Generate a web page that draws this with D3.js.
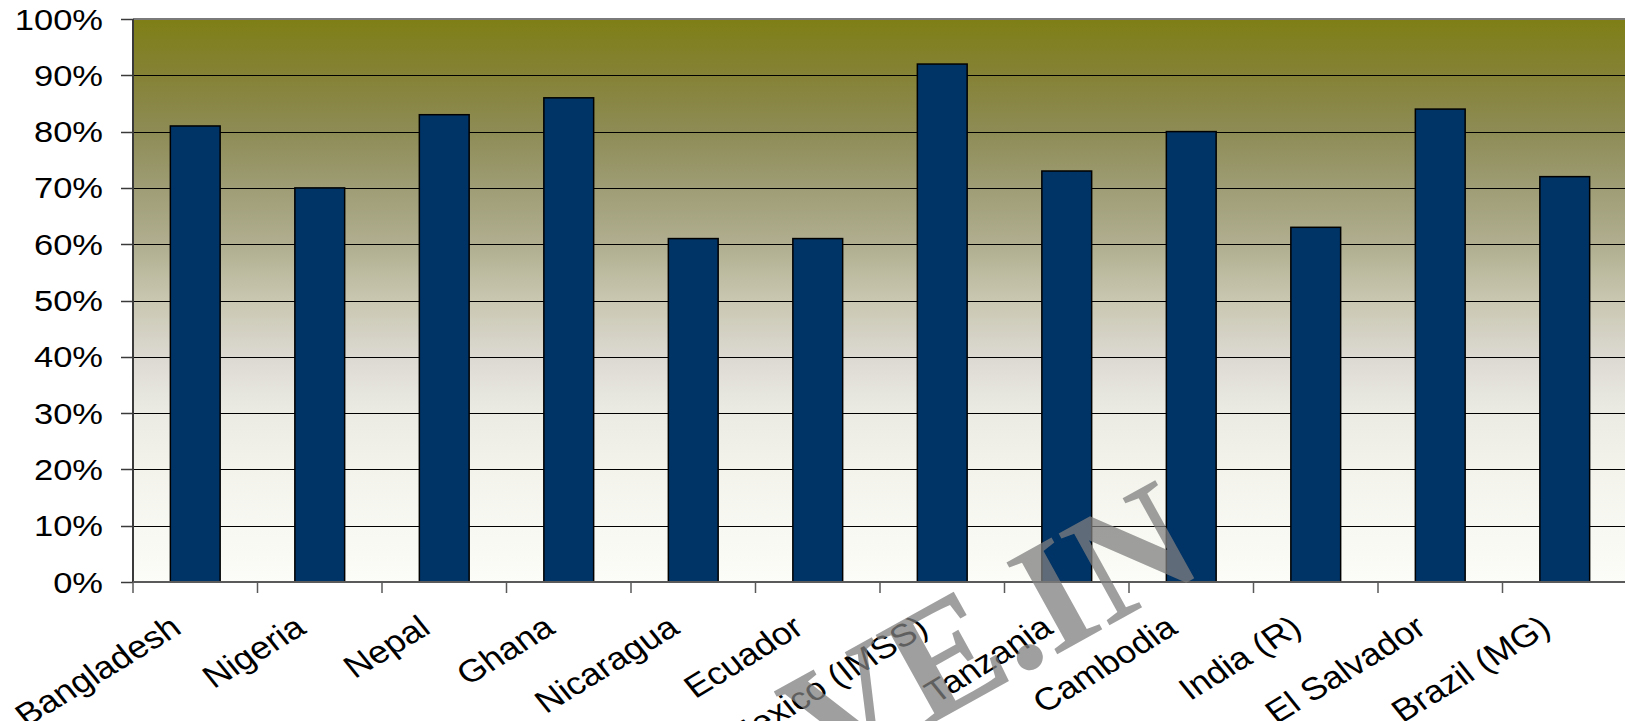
<!DOCTYPE html>
<html>
<head>
<meta charset="utf-8">
<script src="https://cdn.jsdelivr.net/npm/d3@7"></script>
<style>
  html, body { margin: 0; padding: 0; background: #ffffff; }
  svg { display: block; }
  .lbl { font-family: "Liberation Sans", Arial, sans-serif; fill: #000; }
  .wm { font-family: "Liberation Serif", "Times New Roman", serif; fill: #7f7f7f; fill-opacity: 0.75; }
</style>
</head>
<body>
<svg id="chart" width="1625" height="721"></svg>
<script>
// Share of respondents per country
const categories = ["Bangladesh", "Nigeria", "Nepal", "Ghana", "Nicaragua", "Ecuador",
                    "Mexico (IMSS)", "Tanzania", "Cambodia", "India (R)", "El Salvador", "Brazil (MG)"];
const values = [0.81, 0.70, 0.83, 0.86, 0.61, 0.61, 0.92, 0.73, 0.80, 0.63, 0.84, 0.72];
const yTicks = [0, 0.1, 0.2, 0.3, 0.4, 0.5, 0.6, 0.7, 0.8, 0.9, 1.0];

const W = 1625, H = 721;
const plot = { left: 133, right: 1627, top: 19, bottom: 582 };
const stretch = 1.15; // horizontal text stretch

const svg = d3.select("#chart");

const x = d3.scaleBand()
  .domain(categories)
  .range([plot.left, plot.right])
  .paddingInner(0.6)
  .paddingOuter(0.3);

const y = d3.scaleLinear()
  .domain([0, 1])
  .range([plot.bottom, plot.top]);

// Plot-area background gradient (olive at top fading to off-white)
const defs = svg.append("defs");
const grad = defs.append("linearGradient")
  .attr("id", "bg")
  .attr("x1", 0).attr("y1", 0).attr("x2", 0).attr("y2", 1);
[
  [0.00, "#7f7f16"],
  [0.10, "#858236"],
  [0.20, "#8e8c55"],
  [0.30, "#9e9d75"],
  [0.40, "#b0ae8f"],
  [0.50, "#c9c7b0"],
  [0.60, "#dcd9d2"],
  [0.70, "#ebebe4"],
  [0.80, "#f3f3ec"],
  [0.90, "#f8f8f2"],
  [1.00, "#fcfcf8"]
].forEach(([o, c]) => grad.append("stop").attr("offset", o).attr("stop-color", c));

svg.append("rect")
  .attr("x", plot.left).attr("y", plot.top)
  .attr("width", plot.right - plot.left)
  .attr("height", plot.bottom - plot.top)
  .attr("fill", "url(#bg)");

// Horizontal gridlines
svg.append("g")
  .selectAll("line")
  .data(yTicks.filter(t => t > 0 && t < 1))
  .join("line")
  .attr("x1", plot.left).attr("x2", plot.right)
  .attr("y1", d => Math.round(y(d)) + 0.5)
  .attr("y2", d => Math.round(y(d)) + 0.5)
  .attr("stroke", "#000")
  .attr("stroke-width", 1);

// Top border of the plot area
svg.append("line")
  .attr("x1", plot.left).attr("x2", plot.right)
  .attr("y1", plot.top).attr("y2", plot.top)
  .attr("stroke", "#7a7a7a").attr("stroke-width", 2);

// Bars
svg.append("g")
  .selectAll("rect")
  .data(categories.map((c, i) => ({ c, v: values[i] })))
  .join("rect")
  .attr("x", d => x(d.c))
  .attr("y", d => y(d.v))
  .attr("width", x.bandwidth())
  .attr("height", d => y(0) - y(d.v))
  .attr("fill", "#003366")
  .attr("stroke", "#000")
  .attr("stroke-width", 1.5);

// Y axis line, ticks and labels
svg.append("line")
  .attr("x1", plot.left).attr("x2", plot.left)
  .attr("y1", plot.top).attr("y2", plot.bottom)
  .attr("stroke", "#3a3a3a").attr("stroke-width", 2);

const yAxis = svg.append("g");
yAxis.selectAll("line")
  .data(yTicks)
  .join("line")
  .attr("x1", plot.left - 12).attr("x2", plot.left)
  .attr("y1", d => Math.round(y(d)) + 0.5)
  .attr("y2", d => Math.round(y(d)) + 0.5)
  .attr("stroke", "#3a3a3a").attr("stroke-width", 1.5);

const fmt = d3.format(".0%");
yAxis.selectAll("text")
  .data(yTicks)
  .join("text")
  .attr("class", "lbl")
  .attr("transform", d => `translate(103,${y(d)}) scale(${stretch},1)`)
  .attr("dy", "0.35em")
  .attr("text-anchor", "end")
  .attr("font-size", 30)
  .text(d => fmt(d));

// X axis line and tick marks at band boundaries
svg.append("line")
  .attr("x1", plot.left).attr("x2", plot.right)
  .attr("y1", plot.bottom).attr("y2", plot.bottom)
  .attr("stroke", "#5a5a5a").attr("stroke-width", 2);

const boundaries = categories.map(c => x(c) - x.step() * x.paddingOuter()).concat([plot.right]);
svg.append("g")
  .selectAll("line")
  .data(boundaries)
  .join("line")
  .attr("x1", d => d).attr("x2", d => d)
  .attr("y1", plot.bottom).attr("y2", plot.bottom + 11)
  .attr("stroke", "#5a5a5a").attr("stroke-width", 1.5);

// Rotated category labels
svg.append("g")
  .selectAll("text")
  .data(categories)
  .join("text")
  .attr("class", "lbl")
  .attr("transform", d => `translate(${x(d) + x.bandwidth() / 2 - 12},${plot.bottom + 50}) scale(${stretch},1) rotate(-35)`)
  .attr("text-anchor", "end")
  .attr("font-size", 31.5)
  .text(d => d);

// Watermark (large diagonal serif text)
svg.append("text")
  .attr("class", "wm")
  .attr("transform", "translate(823,784) rotate(-29)")
  .attr("font-size", 160)
  .attr("font-weight", "bold")
  .text("VE.IN");
</script>
</body>
</html>
